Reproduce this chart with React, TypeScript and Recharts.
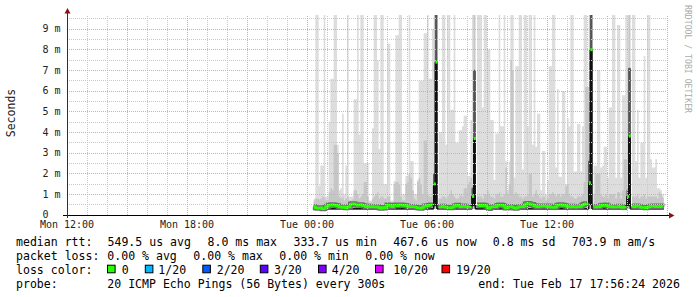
import React from 'react';
import { ComposedChart, Area, Line, Scatter, XAxis, YAxis, ReferenceLine } from 'recharts';

// time axis: hours after Mon 12:00; first sample Tue 00:20, one sample per 5 minutes
const START_H = 12 + 20 / 60;
const STEP_H = 5 / 60;
const SMOKE_FLOOR = 0.3; // ms, lowest ping of the smoke band

// light smoke top (max rtt per step, ms); null = no data
const maxRtt: (number | null)[] = [
  0.8, 10, 10, 1.4, 2.4, 2.4, 10, 0.9, 0.9, 4.5,
  6.6, 6.6, 10, 10, 3.4, 1.2, 1.3, 4.9, 1.0, 2.4,
  10, 0.9, 0.9, 0.9, 5.6, 5.6, 10, 3.9, 10, 10,
  2.5, 2.5, 2.5, 0.7, 0.7, 4.2, 10, 10, 7.5, 3.2,
  10, 10, 1.5, 1.5, 8.3, 8.3, 0.7, 0.7, 1.65, 8.7,
  8.7, 10, 10, 1.0, 1.0, 1.9, 1.9, 10, 2.6, 2.6,
  1.0, 1.0, 1.7, 6.5, 6.5, 6.5, 8.8, 8.8, 10, 6.6,
  6.6, 9.0, 10, 10, null, 4.0, 4.0, 10, 10, 3.4,
  10, 10, 5.1, 5.1, 10, 3.5, 3.5, 4.1, 4.1, 4.3,
  4.8, 4.8, 1.9, 1.9, 4.6, 10, 10, null, 10, 10,
  10, 5.2, 10, 10, 8.0, 8.0, 4.6, 4.6, 1.7, 3.95,
  3.95, 10, 4.3, 4.3, 10, 2.6, 1.2, 2.6, 10, 10,
  1.8, 7.2, 7.2, 10, 10, 2.2, 10, 10, 4.3, 10,
  10, 3.4, 10, 3.3, 4.9, 4.9, 1.2, 3.1, 3.1, 1.0,
  1.7, 7.2, 7.2, 10, 10, 2.3, 6.1, 1.85, 1.85, 6.0,
  6.0, 1.5, 4.7, 4.3, 10, 10, 2.1, 2.1, 4.4, 4.4,
  2.1, 4.3, 10, 10, 6.2, 10, 10, null, 2.4, 2.4,
  7.0, 7.0, 2.3, 2.4, 3.3, 3.3, 1.8, 5.2, 5.2, 10,
  10, 1.8, 9.2, 9.2, 1.8, 5.8, 5.8, 10, 10, 10,
  null, 10, 10, 2.6, 5.1, 1.8, 3.5, 3.5, 7.7, 1.8,
  10, 10, 2.7, 2.3, 2.3, 2.7, 1.3, 1.3, 1.2, 1.0,
];

// denser smoke top (upper quartile per step, ms)
const midRtt: (number | null)[] = [
  0.7, 0.8, 0.8, 0.75, 0.8, 0.9, 0.85, 0.7, 0.7, 1.1,
  1.3, 1.2, 3.4, 3.4, 3.0, 0.9, 0.8, 0.9, 0.7, 0.8,
  0.9, 0.7, 0.7, 0.75, 1.2, 1.2, 1.0, 0.8, 0.9, 1.0,
  1.6, 1.6, 0.9, 0.6, 0.6, 0.8, 0.9, 1.0, 1.1, 0.8,
  0.9, 0.9, 0.8, 0.8, 0.9, 0.9, 0.6, 0.6, 1.5, 1.6,
  1.6, 1.5, 0.9, 0.7, 0.7, 1.5, 1.6, 2.0, 1.8, 1.2,
  0.8, 0.7, 1.6, 1.8, 1.5, 1.0, 3.6, 3.6, 1.0, 0.9,
  0.9, 1.4, 2.5, 10, null, 0.8, 0.8, 0.9, 0.9, 0.8,
  0.9, 1.0, 1.2, 1.0, 0.9, 0.8, 0.8, 0.9, 1.0, 0.9,
  1.3, 1.3, 1.5, 1.6, 1.8, 1.5, 10, null, 0.9, 0.9,
  0.9, 0.8, 1.0, 1.0, 1.2, 1.0, 0.9, 0.9, 0.8, 1.0,
  1.0, 1.1, 0.9, 0.9, 1.0, 2.3, 1.0, 1.5, 7.5, 7.0,
  1.0, 1.1, 1.0, 0.9, 0.9, 0.8, 0.9, 0.9, 1.0, 2.0,
  2.0, 0.9, 1.0, 1.2, 1.0, 0.9, 0.8, 0.9, 0.9, 0.7,
  0.8, 1.0, 1.0, 1.1, 1.0, 0.9, 1.0, 1.0, 0.9, 1.0,
  1.0, 1.4, 1.5, 1.0, 0.9, 0.9, 0.8, 0.8, 0.9, 0.9,
  0.9, 1.0, 1.6, 6.2, 6.2, 5.5, 10, null, 1.0, 2.0,
  2.0, 2.0, 1.0, 0.9, 0.9, 1.0, 0.8, 1.0, 1.0, 1.0,
  1.0, 0.8, 1.1, 1.1, 0.8, 1.2, 2.7, 2.7, 1.3, 10,
  null, 0.9, 0.9, 0.9, 1.0, 0.8, 0.9, 0.9, 1.0, 0.8,
  0.9, 0.9, 0.9, 0.9, 0.9, 0.9, 0.8, 1.1, 1.0, 0.85,
];

// median rtt per step (ms)
const medianRtt: (number | null)[] = [
  0.40, 0.35, 0.33, 0.33, 0.35, 0.30, 0.31, 0.40, 0.42, 0.48,
  0.47, 0.50, 0.48, 0.46, 0.45, 0.40, 0.38, 0.36, 0.40, 0.35,
  0.38, 0.40, 0.52, 0.55, 0.53, 0.50, 0.47, 0.48, 0.50, 0.46,
  0.44, 0.40, 0.42, 0.39, 0.40, 0.41, 0.40, 0.38, 0.40, 0.35,
  0.33, 0.36, 0.34, 0.38, 0.48, 0.46, 0.42, 0.40, 0.47, 0.48,
  0.45, 0.49, 0.48, 0.47, 0.46, 0.45, 0.42, 0.40, 0.41, 0.40,
  0.40, 0.38, 0.35, 0.34, 0.33, 0.36, 0.42, 0.43, 0.45, 0.47,
  0.48, 0.46, 1.5, 7.4, null, 0.38, 0.40, 0.42, 0.40, 0.37,
  0.36, 0.37, 0.35, 0.38, 0.42, 0.45, 0.47, 0.42, 0.40, 0.41,
  0.43, 0.40, 0.39, 0.40, 0.44, 0.9, 3.7, null, 0.48, 0.47,
  0.45, 0.48, 0.46, 0.44, 0.36, 0.32, 0.38, 0.40, 0.41, 0.40,
  0.46, 0.48, 0.48, 0.46, 0.42, 0.34, 0.35, 0.40, 0.41, 0.38,
  0.34, 0.33, 0.36, 0.40, 0.41, 0.40, 0.42, 0.53, 0.56, 0.55,
  0.50, 0.51, 0.45, 0.42, 0.40, 0.41, 0.43, 0.42, 0.44, 0.42,
  0.40, 0.43, 0.37, 0.38, 0.36, 0.40, 0.47, 0.48, 0.50, 0.46,
  0.47, 0.44, 0.40, 0.41, 0.39, 0.42, 0.40, 0.38, 0.41, 0.40,
  0.42, 0.48, 0.52, 0.55, 0.60, 1.56, 8.0, null, 0.40, 0.38,
  0.41, 0.40, 0.45, 0.47, 0.46, 0.48, 0.44, 0.40, 0.41, 0.38,
  0.40, 0.39, 0.40, 0.42, 0.38, 0.36, 0.40, 0.44, 0.89, 3.82,
  null, 0.42, 0.40, 0.44, 0.42, 0.41, 0.37, 0.36, 0.38, 0.35,
  0.37, 0.40, 0.42, 0.41, 0.43, 0.40, 0.42, 0.40, 0.43, 0.41,
];

// latency spikes: step index, low edge of the dense core, top of the dark shade
const spikeSteps = [72, 73, 95, 96, 165, 166, 188, 189];
const spikeCoreLow = [0.45, 0.45, 0.45, 0.45, 0.5, 0.5, 0.45, 0.45];
const spikeShadeHigh = [2.0, 10, 1.3, 7.0, 2.6, 10, 1.2, 7.1];

const xTicks = [0, 6, 12, 18, 24];
const xTickLabels = ['Mon 12:00', 'Mon 18:00', 'Tue 00:00', 'Tue 06:00', 'Tue 12:00'];
const yTicks = [0, 1, 2, 3, 4, 5, 6, 7, 8, 9];
const yTickLabels = ['0', '1 m', '2 m', '3 m', '4 m', '5 m', '6 m', '7 m', '8 m', '9 m'];
const Y_MAX = 9.68;
const X_MAX = 30;

const majorYs = [1, 2, 3, 4, 5, 6, 7, 8, 9];
const minorYs = [0.5, 1.5, 2.5, 3.5, 4.5, 5.5, 6.5, 7.5, 8.5, 9.5];
const majorXs = [3, 6, 9, 12, 15, 18, 21, 24, 27, 30];
const minorXs = [1, 2, 4, 5, 7, 8, 10, 11, 13, 14, 16, 17, 19, 20, 22, 23, 25, 26, 28, 29];

const legendRtt = [
  ['median rtt:', 16], ['549.5 us avg', 107.5], ['8.0 ms max', 207.5], ['333.7 us min', 293.5],
  ['467.6 us now', 393.3], ['0.8 ms sd', 492.8], ['703.9 m am/s', 571.7],
] as const;
const legendLoss = [
  ['packet loss:', 16], ['0.00 % avg', 107.3], ['0.00 % max', 193.3], ['0.00 % min', 279.3], ['0.00 % now', 365.3],
] as const;
const lossLabels = ['0', '1/20', '2/20', '3/20', '4/20', '10/20', '19/20'];
const lossColors = ['#26ff00', '#00b8ff', '#0059ff', '#5e00ff', '#7e00ff', '#dd00ff', '#ff0000'];
const lossBoxX = [107.5, 145.3, 202.8, 260.3, 318.5, 375.5, 442];
const lossLabelX = [121.7, 158.3, 216.7, 274, 331.7, 393.3, 456];

const GREEN = '#26ff00';
const MONO = '"DejaVu Sans Mono", monospace';
const CHAR_W = 6.95;

const rows = Array.from({ length: maxRtt.length + 1 }, (_, i) => {
  const k = Math.min(i, maxRtt.length - 1);
  const mx = maxRtt[k];
  const gap = mx === null;
  const si = spikeSteps.indexOf(k);
  return {
    t: START_H + i * STEP_H,
    light: gap ? [SMOKE_FLOOR, SMOKE_FLOOR] : [SMOKE_FLOOR, mx],
    mid: gap ? [SMOKE_FLOOR, SMOKE_FLOOR] : [SMOKE_FLOOR, midRtt[k]],
    shade: si >= 0 ? [medianRtt[k], spikeShadeHigh[si]] : [SMOKE_FLOOR, SMOKE_FLOOR],
    core: si >= 0 ? [spikeCoreLow[si], medianRtt[k]] : [SMOKE_FLOOR, SMOKE_FLOOR],
    med: si >= 0 || gap ? null : medianRtt[k],
    medAll: gap ? null : medianRtt[k],
  };
});

const spikePts = spikeSteps.map((k) => ({ t: START_H + k * STEP_H, v: medianRtt[k] }));

const XTick = (props: any) => {
  const i = xTicks.indexOf(props.payload.value);
  return (
    <text x={props.x} y={227.5} textAnchor="middle" fontFamily={MONO} fontSize={10} fill="#222">
      {xTickLabels[i]}
    </text>
  );
};

const YTick = (props: any) => {
  const i = yTicks.indexOf(props.payload.value);
  return (
    <text x={42.5} y={props.y + (i === 0 ? 2.6 : 3.4)} textAnchor="start" fontFamily={MONO} fontSize={10} fill="#222">
      {yTickLabels[i]}
    </text>
  );
};

const SpikeMark = (props: any) => (
  <rect x={props.cx} y={props.cy - 1.5} width={2.2} height={3} fill={GREEN} />
);

const LegendText = ({ x, y, s }: { x: number; y: number; s: string }) => (
  <text x={x} y={y} textLength={s.length * CHAR_W} lengthAdjust="spacingAndGlyphs">{s}</text>
);

export default function App() {
  return (
    <div style={{ position: 'absolute', left: 0, top: 0, width: 697, height: 297, background: '#fff' }}>
      <ComposedChart width={697} height={297} data={rows} margin={{ top: 15, right: 30, bottom: 62, left: 0 }}>
        <XAxis type="number" dataKey="t" domain={[0, X_MAX]} ticks={xTicks} tick={<XTick />} tickLine={false}
          axisLine={false} height={20} allowDataOverflow interval={0} />
        <YAxis type="number" domain={[0, Y_MAX]} ticks={yTicks} tick={<YTick />} tickLine={false}
          axisLine={false} width={67} allowDataOverflow interval={0} />
        <Area type="stepAfter" dataKey="light" fill="#dddddd" fillOpacity={1} stroke="none" isAnimationActive={false} />
        <Area type="stepAfter" dataKey="mid" fill="#c6c6c6" fillOpacity={1} stroke="none" isAnimationActive={false} />
        <Area type="stepAfter" dataKey="shade" fill="#555555" fillOpacity={1} stroke="#555555" strokeWidth={1}
          isAnimationActive={false} />
        <Area type="stepAfter" dataKey="core" fill="#111111" fillOpacity={1} stroke="#111111" strokeWidth={1}
          isAnimationActive={false} />
        <Line type="stepAfter" dataKey="med" stroke="#707070" strokeWidth={5} dot={false} connectNulls={false}
          isAnimationActive={false} />
        <Line type="stepAfter" dataKey="medAll" stroke="#111111" strokeWidth={1.2} dot={false} connectNulls={false}
          isAnimationActive={false} />
        <Line type="stepAfter" dataKey="med" stroke={GREEN} strokeWidth={2.4} dot={false} connectNulls={false}
          isAnimationActive={false} />
        <Scatter data={spikePts} dataKey="v" shape={<SpikeMark />} isAnimationActive={false} />
        {minorYs.map((v) => (
          <ReferenceLine key={'my' + v} y={v} stroke="#c8c8c8" strokeDasharray="1 1" shapeRendering="crispEdges" />
        ))}
        {minorXs.map((v) => (
          <ReferenceLine key={'mx' + v} x={v} stroke="#c8c8c8" strokeDasharray="1 1" shapeRendering="crispEdges" />
        ))}
        {majorYs.map((v) => (
          <ReferenceLine key={'My' + v} y={v} stroke="#f0a0a0" strokeDasharray="1 1" shapeRendering="crispEdges" />
        ))}
        {majorXs.map((v) => (
          <ReferenceLine key={'Mx' + v} x={v} stroke="#f0a0a0" strokeDasharray="1 1" shapeRendering="crispEdges" />
        ))}
      </ComposedChart>
      <svg width={697} height={297} style={{ position: 'absolute', left: 0, top: 0, pointerEvents: 'none' }}>
        <line x1={63} y1={215.5} x2={669} y2={215.5} stroke="#000" strokeWidth={1} />
        <line x1={67.5} y1={218} x2={67.5} y2={13} stroke="#5a1e1e" strokeWidth={1} />
        <polygon points="64.5,13.5 70.5,13.5 67.5,8" fill="#8a1414" />
        <polygon points="669,212.5 669,218.5 674.5,215.5" fill="#8a1414" />
        <text transform="translate(15,113) rotate(-90)" textAnchor="middle" fontFamily={MONO} fontSize={11.5} fill="#222">
          Seconds
        </text>
        <text transform="translate(685,5) rotate(90)" textAnchor="start" fontFamily={MONO} fontSize={8} fill="#aaaaaa"
          textLength={108} lengthAdjust="spacingAndGlyphs">
          RRDTOOL / TOBI OETIKER
        </text>
        <g fontFamily={MONO} fontSize={11.4} fill="#000" style={{ whiteSpace: 'pre' }}>
          {legendRtt.map(([s, x]) => (
            <LegendText key={s} x={x} y={245.7} s={s} />
          ))}
          {legendLoss.map(([s, x]) => (
            <LegendText key={s + x} x={x} y={259.7} s={s} />
          ))}
          <LegendText x={16} y={273.6} s="loss color:" />
          {lossLabels.map((s, i) => (
            <g key={s}>
              <rect x={lossBoxX[i]} y={265.2} width={7.6} height={7.6} fill={lossColors[i]} stroke="#000" strokeWidth={1} />
              <LegendText x={lossLabelX[i]} y={273.6} s={s} />
            </g>
          ))}
          <LegendText x={16} y={287.6} s="probe:" />
          <LegendText x={107.3} y={287.6} s="20 ICMP Echo Pings (56 Bytes) every 300s" />
          <LegendText x={478.3} y={287.6} s="end: Tue Feb 17 17:56:24 2026" />
        </g>
      </svg>
    </div>
  );
}
